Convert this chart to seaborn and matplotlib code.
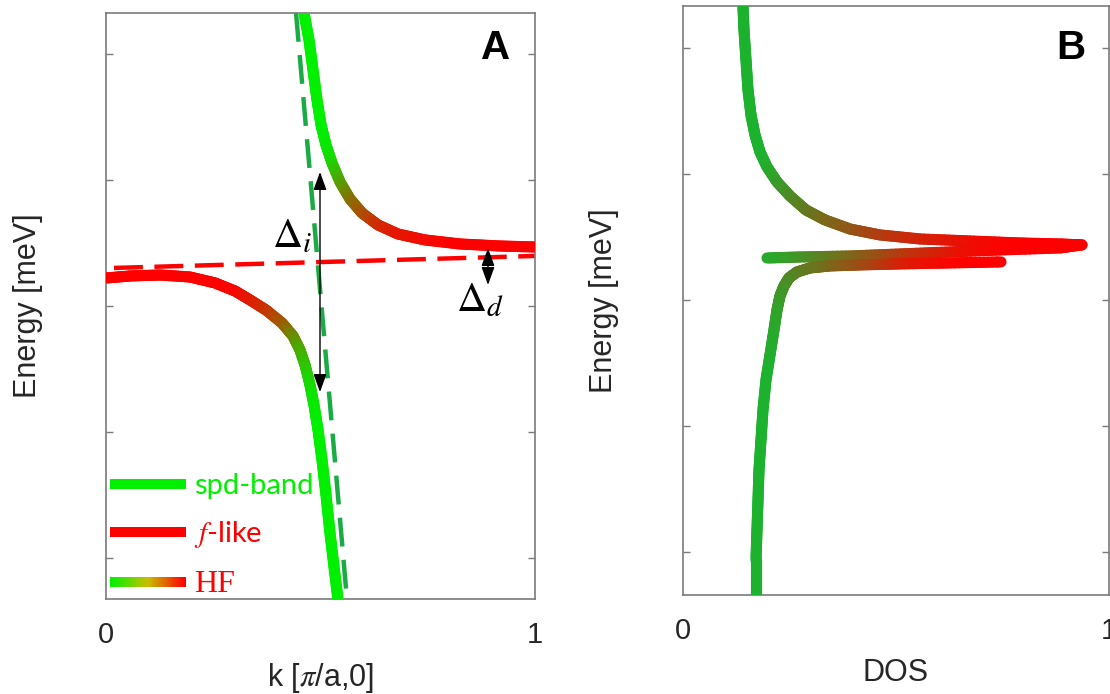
import numpy as np
import pandas as pd
import matplotlib
matplotlib.use("Agg")
import matplotlib.pyplot as plt
import seaborn as sns
from matplotlib.collections import LineCollection
from matplotlib.colors import to_rgb
from matplotlib.legend_handler import HandlerBase
from matplotlib.lines import Line2D

# ---------------- data ----------------
# Panel A: hybridised bands, k in [pi/a,0], energy in tick units
UP_K = [0.4615, 0.4732, 0.4825, 0.4918, 0.5012, 0.5128, 0.5268, 0.5455, 0.5688,
        0.5967, 0.6340, 0.6807, 0.7436, 0.8252, 0.9184, 1.0]
UP_E = [2.325, 2.111, 1.873, 1.635, 1.437, 1.278, 1.135, 0.984, 0.849,
        0.738, 0.643, 0.571, 0.524, 0.492, 0.476, 0.468]
UP_F = [0.0, 0.0, 0.0, 0.0, 0.0, 0.02, 0.1, 0.3, 0.5,
        0.65, 0.8, 0.9, 0.95, 1.0, 1.0, 1.0]

LO_K = [0.0, 0.0559, 0.1259, 0.1958, 0.2541, 0.3007, 0.3357, 0.3730, 0.4103, 0.4359,
        0.4522, 0.4639, 0.4755, 0.4848, 0.4942, 0.5035, 0.5128, 0.5221, 0.5315, 0.5408]
LO_E = [0.222, 0.238, 0.246, 0.230, 0.183, 0.119, 0.048, -0.032, -0.135, -0.238,
        -0.349, -0.468, -0.627, -0.786, -0.984, -1.222, -1.5, -1.802, -2.071, -2.333]
LO_F = [1.0, 1.0, 1.0, 1.0, 1.0, 0.97, 0.9, 0.8, 0.65, 0.45,
        0.3, 0.2, 0.1, 0.03, 0.0, 0.0, 0.0, 0.0, 0.0, 0.0]

SPD_K = [0.4429, 0.5618]          # bare spd band (dashed)
SPD_E = [2.325, -2.333]
FLEV_K = [0.0186, 1.0]            # bare f level (dashed)
FLEV_E = [0.302, 0.397]

GAP_I_K = 0.4988                  # indirect gap arrow
GAP_I_E = [1.063, -0.683]
GAP_D_K = 0.8904                  # direct gap arrow
GAP_D_E = [0.460, 0.167]

# Panel B: density of states (x = DOS, y = energy)
DOS1_X = [0.1408, 0.1432, 0.1479, 0.1526, 0.1596, 0.1690, 0.1808, 0.1972, 0.2207, 0.2512,
          0.2887, 0.3333, 0.3920, 0.4624, 0.5563, 0.6737, 0.7911, 0.8850, 0.9366,
          0.8850, 0.7441, 0.6268, 0.5094, 0.3920, 0.2746, 0.1972]
DOS1_E = [2.333, 2.143, 1.905, 1.667, 1.468, 1.310, 1.175, 1.056, 0.937, 0.825,
          0.714, 0.635, 0.563, 0.516, 0.484, 0.468, 0.452, 0.444, 0.437,
          0.413, 0.397, 0.381, 0.365, 0.349, 0.341, 0.333]
DOS1_F = [0.0, 0.0, 0.0, 0.0, 0.0, 0.0, 0.0, 0.02, 0.1, 0.2,
          0.3, 0.4, 0.5, 0.65, 0.8, 0.92, 1.0, 1.0, 1.0,
          1.0, 1.0, 0.9, 0.7, 0.45, 0.2, 0.05]

DOS2_X = [0.7465, 0.6268, 0.5094, 0.4155, 0.3451, 0.2981, 0.2676, 0.2488, 0.2371, 0.2277,
          0.2207, 0.2136, 0.2042, 0.1948, 0.1878, 0.1831, 0.1784, 0.1761, 0.1737, 0.1714, 0.1714]
DOS2_E = [0.302, 0.294, 0.286, 0.278, 0.270, 0.254, 0.222, 0.175, 0.111, 0.032,
          -0.079, -0.238, -0.437, -0.635, -0.873, -1.111, -1.349, -1.587, -1.825, -2.063, -2.357]
DOS2_F = [1.0, 1.0, 0.85, 0.6, 0.45, 0.35, 0.3, 0.25, 0.2, 0.15,
          0.1, 0.06, 0.03, 0.0, 0.0, 0.0, 0.0, 0.0, 0.0, 0.0, 0.0]

E_TICKS = [-2, -1, 0, 1, 2]
X_TICKS = [0, 1]
X_TICKLABELS = ["0", "1"]
LEGEND_LABELS = ["spd-band", r"$\mathit{f}$-like", "HF"]

# ---------------- styling ----------------
GREEN_A = "#00f000"
GREEN_B = "#1db22e"
RED = "#ff0000"
DASH_GREEN = "#1aab45"
TXT = "#262626"
SPINE = "#7a7a7a"
BAND_LW = 8.0

sns.set_theme(style="white")
plt.rcParams["font.family"] = ["Liberation Sans", "DejaVu Sans"]
plt.rcParams["mathtext.fontset"] = "stix"


def gradient_line(ax, x, y, w, c0, c1, lw, sub=12):
    """Draw the polyline through the given points; each straight piece is
    split only for a smooth colour blend along it."""
    x = np.asarray(x, float)
    y = np.asarray(y, float)
    w = np.asarray(w, float)
    a, b = np.array(to_rgb(c0)), np.array(to_rgb(c1))
    segs, cols = [], []
    for i in range(len(x) - 1):
        t = np.linspace(0.0, 1.0, sub + 1)
        xs = x[i] + (x[i + 1] - x[i]) * t
        ys = y[i] + (y[i + 1] - y[i]) * t
        ws = w[i] + (w[i + 1] - w[i]) * t
        for j in range(sub):
            segs.append([(xs[j], ys[j]), (xs[j + 1], ys[j + 1])])
            wm = 0.5 * (ws[j] + ws[j + 1])
            cols.append((1 - wm) * a + wm * b)
    lc = LineCollection(segs, colors=cols, linewidths=lw, capstyle="round",
                        joinstyle="round", zorder=3)
    ax.add_collection(lc)
    return lc


class GradientHandler(HandlerBase):
    def __init__(self, c0, c1, lw):
        super().__init__()
        self.c0, self.c1, self.lw = c0, c1, lw

    def create_artists(self, legend, orig_handle, xdescent, ydescent, width,
                       height, fontsize, trans):
        n = 40
        xs = np.linspace(-xdescent, width - xdescent, n + 1)
        yc = height / 2 - ydescent
        segs = [[(xs[i], yc), (xs[i + 1], yc)] for i in range(n)]
        t = np.linspace(0, 1, n)
        a, b = np.array(to_rgb(self.c0)), np.array(to_rgb(self.c1))
        mid = np.array([0.78, 0.75, 0.0])
        cols = []
        for v in t:
            if v < 0.5:
                cols.append(a + (mid - a) * (v / 0.5))
            else:
                cols.append(mid + (b - mid) * ((v - 0.5) / 0.5))
        lc = LineCollection(segs, colors=cols, linewidths=self.lw,
                            capstyle="butt", transform=trans)
        return [lc]


def style_axes(ax, ylim):
    ax.set_xlim(0, 1)
    ax.set_ylim(*ylim)
    ax.set_xticks(X_TICKS)
    ax.set_xticklabels(X_TICKLABELS)
    ax.set_yticks(E_TICKS)
    ax.set_yticklabels([])
    ax.tick_params(axis="y", which="both", direction="in", left=True, right=True,
                   length=5, width=1, color=SPINE, labelleft=False)
    ax.tick_params(axis="x", length=0, pad=16, labelsize=21, labelcolor=TXT)
    for s in ax.spines.values():
        s.set_visible(True)
        s.set_color(SPINE)
        s.set_linewidth(1.2)
    ax.set_facecolor("white")


fig = plt.figure(figsize=(11.10, 6.94), dpi=100)
fig.patch.set_facecolor("white")
axA = fig.add_axes([0.0955, 0.1369, 0.3865, 0.8444])
axB = fig.add_axes([0.6153, 0.1427, 0.3838, 0.8487])

# ---------------- panel A ----------------
df_spd = pd.DataFrame({"k": SPD_K, "E": SPD_E})
df_f = pd.DataFrame({"k": FLEV_K, "E": FLEV_E})
sns.lineplot(data=df_spd, x="k", y="E", ax=axA, color=DASH_GREEN, lw=3.2,
             sort=False, estimator=None, zorder=2)
axA.lines[-1].set_dashes([6.5, 3.0])
sns.lineplot(data=df_f, x="k", y="E", ax=axA, color=RED, lw=3.2,
             sort=False, estimator=None, zorder=2)
axA.lines[-1].set_dashes([6.5, 2.6])

gradient_line(axA, UP_K, UP_E, UP_F, GREEN_A, RED, BAND_LW)
gradient_line(axA, LO_K, LO_E, LO_F, GREEN_A, RED, BAND_LW)

arrow_kw = dict(arrowstyle="<|-|>,head_length=0.55,head_width=0.2", color="black",
                lw=1.0, shrinkA=0, shrinkB=0, mutation_scale=20)
axA.annotate("", xy=(GAP_I_K, GAP_I_E[0]), xytext=(GAP_I_K, GAP_I_E[1]),
             arrowprops=arrow_kw, zorder=5)
axA.annotate("", xy=(GAP_D_K, GAP_D_E[0]), xytext=(GAP_D_K, GAP_D_E[1]),
             arrowprops=arrow_kw, zorder=5)
axA.text(0.434, 0.556, r"$\Delta_i$", fontsize=30, ha="center", va="center",
         color="black", zorder=6)
axA.text(0.872, 0.048, r"$\Delta_d$", fontsize=30, ha="center", va="center",
         color="black", zorder=6)
axA.text(0.909, 0.940, "A", transform=axA.transAxes, fontsize=29,
         fontweight="bold", ha="center", va="center", color="black",
         family=["Liberation Sans", "DejaVu Sans"])

style_axes(axA, (-2.325, 2.325))
axA.set_xlabel(r"k [$\pi$/a,0]", fontsize=22, color=TXT)
axA.set_ylabel("Energy [meV]", fontsize=22, color=TXT)
axA.xaxis.set_label_coords(0.5, -0.105)
axA.yaxis.set_label_coords(-0.147, 0.5)

h_spd = Line2D([], [], color=GREEN_A, lw=7.2, solid_capstyle="butt")
h_f = Line2D([], [], color=RED, lw=7.2, solid_capstyle="butt")
h_hf = Line2D([], [], color=RED, lw=7.2)
leg = axA.legend([h_spd, h_f, h_hf], LEGEND_LABELS, loc="lower left",
                 bbox_to_anchor=(0.009, 0.0), frameon=False,
                 handlelength=2.6, handletextpad=0.3, labelspacing=0.68,
                 borderpad=0.0, borderaxespad=0.0,
                 handler_map={h_hf: GradientHandler(GREEN_A, RED, 7.2)},
                 prop={"family": ["Lato", "DejaVu Sans"], "size": 21})
txts = leg.get_texts()
txts[0].set_color(GREEN_A)
txts[1].set_color(RED)
txts[2].set_color(RED)
txts[2].set_fontfamily(["Liberation Serif", "DejaVu Serif"])
txts[2].set_fontsize(23)

# ---------------- panel B ----------------
gradient_line(axB, DOS1_X, DOS1_E, DOS1_F, GREEN_B, RED, BAND_LW)
gradient_line(axB, DOS2_X, DOS2_E, DOS2_F, GREEN_B, RED, BAND_LW)
axB.text(0.911, 0.929, "B", transform=axB.transAxes, fontsize=29,
         fontweight="bold", ha="center", va="center", color="black",
         family=["Liberation Sans", "DejaVu Sans"])
style_axes(axB, (-2.341, 2.333))
axB.set_xlabel("DOS", fontsize=22, color=TXT)
axB.set_ylabel("Energy [meV]", fontsize=22, color=TXT)
axB.xaxis.set_label_coords(0.5, -0.107)
axB.yaxis.set_label_coords(-0.150, 0.5)

fig.savefig("out.png", dpi=100, facecolor="white")
